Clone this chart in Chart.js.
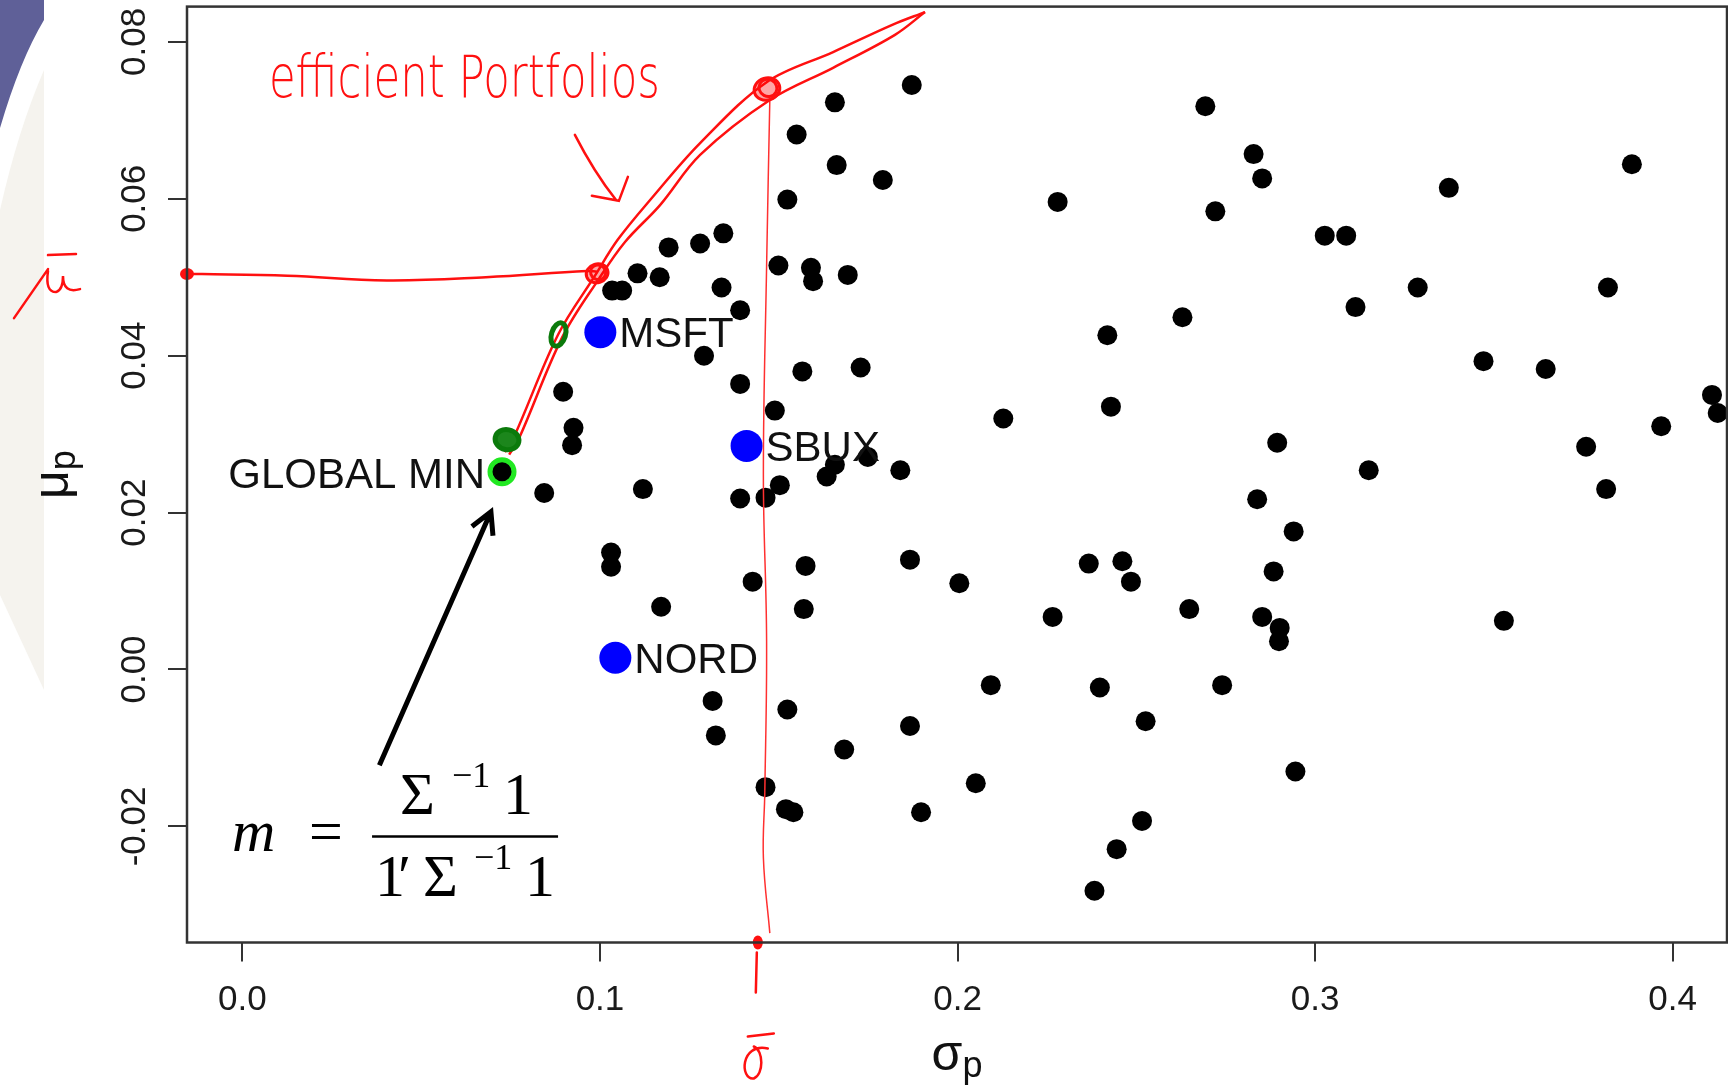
<!DOCTYPE html>
<html>
<head>
<meta charset="utf-8">
<title>Portfolio frontier</title>
<script src="https://cdn.jsdelivr.net/npm/chart.js@4.4.1/dist/chart.umd.min.js"></script>
<style>
  html, body { margin: 0; padding: 0; background: #fff; }
  #wrap { width: 1728px; height: 1089px; }
</style>
</head>
<body>
<div id="wrap"><canvas id="chart" width="1728" height="1089"></canvas></div>
<script>
// --- Data ---
// random portfolios (sigma_p, mu_p)
const portSigma = [
  0.1872, 0.1657, 0.1550, 0.1662, 0.1791, 0.1524, 0.1499, 0.1590, 0.1596, 0.1693,
  0.1345, 0.1280, 0.1192, 0.1105, 0.1167, 0.1034, 0.1062, 0.1340, 0.1392, 0.1291,
  0.1566, 0.1729, 0.1392, 0.1489, 0.0897, 0.0926, 0.0922, 0.1120, 0.0844, 0.1503,
  0.1392, 0.1463, 0.1634, 0.1657, 0.1749, 0.1840, 0.1031, 0.1031, 0.1171, 0.1427,
  0.1575, 0.1570, 0.1867, 0.2005, 0.1315, 0.1324, 0.1524, 0.1683, 0.1463, 0.1520,
  0.1541, 0.1867, 0.1898, 0.2093, 0.2051, 0.2280, 0.2693, 0.2828, 0.2852, 0.2721,
  0.3027, 0.3087, 0.3374, 0.3113, 0.3287, 0.2629, 0.2419, 0.3471, 0.3645, 0.3819,
  0.3886, 0.2128, 0.2429, 0.2894, 0.3150, 0.2838, 0.2940, 0.2367, 0.2461, 0.2485,
  0.2884, 0.2648, 0.2266, 0.2852, 0.2901, 0.2899, 0.2398, 0.2740, 0.2526, 0.2945,
  0.2516, 0.2445, 0.2383, 0.3528, 0.3814, 0.3758, 0.3968, 0.4110, 0.4126
];
const portMu = [
  0.0745, 0.0723, 0.0682, 0.0643, 0.0624, 0.0599, 0.0515, 0.0512, 0.0495, 0.0503,
  0.0556, 0.0543, 0.0538, 0.0505, 0.0500, 0.0483, 0.0483, 0.0487, 0.0458, 0.0400,
  0.0380, 0.0385, 0.0364, 0.0330, 0.0354, 0.0308, 0.0286, 0.0230, 0.0225, 0.0235,
  0.0218, 0.0219, 0.0246, 0.0261, 0.0271, 0.0254, 0.0149, 0.0131, 0.0080, 0.0112,
  0.0132, 0.0077, 0.0140, 0.0110, -0.0040, -0.0084, -0.0051, -0.0102, -0.0150, -0.0178,
  -0.0182, -0.0072, -0.0182, -0.0020, -0.0145, 0.0596, 0.0718, 0.0657, 0.0626, 0.0584,
  0.0553, 0.0553, 0.0614, 0.0462, 0.0487, 0.0449, 0.0426, 0.0393, 0.0383, 0.0487,
  0.0644, 0.0320, 0.0335, 0.0289, 0.0254, 0.0217, 0.0176, 0.0135, 0.0138, 0.0112,
  0.0125, 0.0077, 0.0067, 0.0067, 0.0053, 0.0036, -0.0023, -0.0020, -0.0066, -0.0130,
  -0.0193, -0.0229, -0.0282, 0.0062, 0.0230, 0.0284, 0.0310, 0.0350, 0.0327
];

// the three assets
const assetNames = ['MSFT', 'SBUX', 'NORD'];
const assetSigma = [0.1001, 0.1410, 0.1043];
const assetMu = [0.0430, 0.0285, 0.0015];

// global minimum variance portfolio
const gminLabel = 'GLOBAL MIN';
const gminSigma = [0.0726];
const gminMu = [0.0252];

// hand-drawn frontier (two strokes)
const frontierSigmaA = [0.0734, 0.0762, 0.0883, 0.0986, 0.1050, 0.1145, 0.1280, 0.1467, 0.1652, 0.1819, 0.1909];
const frontierMuA = [0.0277, 0.0299, 0.0427, 0.0502, 0.0548, 0.0601, 0.0671, 0.0749, 0.0787, 0.0822, 0.0838];
const frontierSigmaB = [0.0746, 0.0774, 0.0894, 0.0997, 0.1070, 0.1168, 0.1280, 0.1475, 0.1652, 0.1825, 0.1909];
const frontierMuB = [0.0274, 0.0295, 0.0423, 0.0498, 0.0545, 0.0592, 0.0656, 0.0726, 0.0767, 0.0809, 0.0838];

// target return line (mu bar) and its sigma (sigma bar)
const muBarSigma = [-0.0155, -0.0113, 0.0126, 0.0404, 0.0681, 0.0964, 0.0992];
const muBarMu = [0.0504, 0.0504, 0.0502, 0.0496, 0.0500, 0.0508, 0.0507];
const sigmaBarSigma = [0.1475, 0.1466, 0.1457, 0.1466, 0.1461, 0.1457, 0.1475];
const sigmaBarMu = [0.0726, 0.0514, 0.0248, 0.0036, -0.0156, -0.0240, -0.0336];

// ink marks on the frontier
const redMarkSigma = [0.0992, 0.1467];
const redMarkMu = [0.0505, 0.0740];
const greenMarkSigma = [0.0884, 0.0740];
const greenMarkMu = [0.0427, 0.0293];

// axes
const xMin = -0.0155, xMax = 0.4152;
const yMin = -0.0348, yMax = 0.0845;
const xTicks = [0, 0.1, 0.2, 0.3, 0.4];
const xTickLabels = ['0.0', '0.1', '0.2', '0.3', '0.4'];
const yTicks = [-0.02, 0, 0.02, 0.04, 0.06, 0.08];
const yTickLabels = ['-0.02', '0.00', '0.02', '0.04', '0.06', '0.08'];

// annotation anchors (data space)
const noteText = 'efficient Portfolios';
const noteAt = { x: 0.0074, y: 0.0730 };
const formulaAt = { x: -0.0029, y: -0.0232 };
const arrowFrom = { x: 0.0383, y: -0.0122 };
const arrowTo = { x: 0.0695, y: 0.0201 };

const inkRed = '#ff1010';
const inkGreen = '#0b7a0b';
const tickFontFamily = '"Liberation Sans Narrow", "Arial Narrow", "Liberation Sans", sans-serif';
const labelFont = '42px "Liberation Sans", Arial, sans-serif';

const toXY = (xs, ys) => xs.map((v, i) => ({ x: v, y: ys[i] }));

// --- Background slide decoration ---
const slidePlugin = {
  id: 'slide',
  beforeDraw(chart) {
    const ctx = chart.ctx;
    ctx.save();
    ctx.fillStyle = '#ffffff';
    ctx.fillRect(0, 0, chart.width, chart.height);
    // faint beige band on the left edge
    ctx.fillStyle = '#f5f3ee';
    ctx.beginPath();
    ctx.moveTo(44, 70);
    ctx.lineTo(44, 690);
    ctx.lineTo(0, 595);
    ctx.lineTo(0, 210);
    ctx.quadraticCurveTo(18, 130, 44, 70);
    ctx.fill();
    // purple corner
    ctx.fillStyle = '#5f6098';
    ctx.beginPath();
    ctx.moveTo(0, 0);
    ctx.lineTo(44, 0);
    ctx.lineTo(44, 20);
    ctx.quadraticCurveTo(20, 60, 0, 128);
    ctx.closePath();
    ctx.fill();
    ctx.restore();
  }
};

// --- Labels, ink and formula ---
const inkPlugin = {
  id: 'ink',
  afterDatasetsDraw(chart) {
    const ctx = chart.ctx;
    const ca = chart.chartArea;
    const px = v => chart.scales.x.getPixelForValue(v);
    const py = v => chart.scales.y.getPixelForValue(v);

    ctx.save();

    // red ink circles on the frontier
    ctx.lineCap = 'round';
    redMarkSigma.forEach((s, i) => {
      const cx = px(s), cy = py(redMarkMu[i]);
      const r = i === 0 ? 11 : 13;
      ctx.fillStyle = 'rgba(255,0,0,0.35)';
      ctx.beginPath(); ctx.ellipse(cx, cy, r, r * 0.85, -0.3, 0, Math.PI * 2); ctx.fill();
      ctx.strokeStyle = inkRed; ctx.lineWidth = 3;
      ctx.beginPath(); ctx.ellipse(cx, cy, r, r * 0.85, -0.3, 0, Math.PI * 2); ctx.stroke();
      ctx.beginPath(); ctx.ellipse(cx + 1, cy - 1, r * 0.7, r * 0.65, 0.5, 0, Math.PI * 2); ctx.stroke();
    });
    // ink dots where the lines meet the axes
    ctx.fillStyle = inkRed;
    ctx.beginPath(); ctx.ellipse(ca.left, py(muBarMu[0]), 7, 6, 0, 0, Math.PI * 2); ctx.fill();
    ctx.beginPath(); ctx.ellipse(px(sigmaBarSigma[sigmaBarSigma.length - 1]) - 12, ca.bottom, 5, 7, 0, 0, Math.PI * 2); ctx.fill();

    // green marks
    ctx.strokeStyle = inkGreen; ctx.lineWidth = 5;
    ctx.beginPath(); ctx.ellipse(px(greenMarkSigma[0]), py(greenMarkMu[0]), 7, 12, 0.3, 0, Math.PI * 2); ctx.stroke();
    ctx.fillStyle = '#1c861c';
    ctx.beginPath(); ctx.ellipse(px(greenMarkSigma[1]), py(greenMarkMu[1]), 12, 10, 0.2, 0, Math.PI * 2); ctx.fill();
    ctx.beginPath(); ctx.ellipse(px(greenMarkSigma[1]), py(greenMarkMu[1]), 12, 10, 0.2, 0, Math.PI * 2); ctx.stroke();

    // handwritten note
    const nx = px(noteAt.x), ny = py(noteAt.y);
    ctx.fillStyle = inkRed;
    ctx.font = '200 44px "DejaVu Sans", "Liberation Sans Narrow", sans-serif';
    ctx.textAlign = 'left'; ctx.textBaseline = 'alphabetic';
    const nw = ctx.measureText(noteText).width;
    ctx.save();
    ctx.translate(nx, ny);
    ctx.scale(391 / nw, 1.35);
    ctx.fillText(noteText, 0, 0);
    ctx.restore();
    // red arrow pointing at the frontier
    ctx.strokeStyle = inkRed; ctx.lineWidth = 2.5;
    ctx.beginPath();
    ctx.moveTo(nx + 306, ny + 38);
    ctx.quadraticCurveTo(nx + 325, ny + 75, nx + 347, ny + 103);
    ctx.moveTo(nx + 323, ny + 99);
    ctx.lineTo(nx + 350, ny + 104);
    ctx.lineTo(nx + 359, ny + 80);
    ctx.stroke();

    // mu bar symbol left of the axis
    const my = py(muBarMu[0]);
    ctx.lineWidth = 2.5;
    ctx.beginPath();
    ctx.moveTo(14, my + 44);
    ctx.lineTo(48, my - 5);
    ctx.moveTo(48, my - 3);
    ctx.quadraticCurveTo(45, my + 18, 56, my + 18);
    ctx.quadraticCurveTo(63, my + 16, 63, my + 2);
    ctx.quadraticCurveTo(63, my + 20, 80, my + 15);
    ctx.moveTo(48, my - 19);
    ctx.lineTo(76, my - 20);
    ctx.stroke();

    // sigma bar symbol below the axis
    const sx = px(sigmaBarSigma[sigmaBarSigma.length - 1]) - 14;
    const by = ca.bottom;
    ctx.beginPath();
    ctx.moveTo(sx + 1, by + 10);
    ctx.lineTo(sx, by + 50);
    ctx.moveTo(sx - 8, by + 94);
    ctx.lineTo(sx + 18, by + 91);
    ctx.moveTo(sx + 12, by + 106);
    ctx.bezierCurveTo(sx - 16, by + 100, sx - 16, by + 138, sx - 2, by + 136);
    ctx.bezierCurveTo(sx + 8, by + 132, sx + 8, by + 108, sx - 2, by + 104);
    ctx.stroke();

    // black arrow to the global minimum
    const ax0 = px(arrowFrom.x), ay0 = py(arrowFrom.y);
    const ax1 = px(arrowTo.x), ay1 = py(arrowTo.y);
    const ang = Math.atan2(ay1 - ay0, ax1 - ax0);
    ctx.strokeStyle = '#000'; ctx.lineWidth = 5; ctx.lineCap = 'butt';
    ctx.beginPath();
    ctx.moveTo(ax0, ay0); ctx.lineTo(ax1, ay1);
    ctx.moveTo(ax1 - 24 * Math.cos(ang - 0.5), ay1 - 24 * Math.sin(ang - 0.5));
    ctx.lineTo(ax1, ay1);
    ctx.lineTo(ax1 - 24 * Math.cos(ang + 0.5), ay1 - 24 * Math.sin(ang + 0.5));
    ctx.stroke();

    // formula m = Sigma^-1 1 / 1' Sigma^-1 1
    const fx = px(formulaAt.x), fy = py(formulaAt.y);
    ctx.fillStyle = '#000';
    const serif = '"Liberation Serif", "Times New Roman", serif';
    ctx.font = 'italic 60px ' + serif;
    ctx.fillText('m', fx, fy);
    ctx.font = '60px ' + serif;
    ctx.fillText('=', fx + 77, fy);
    ctx.lineWidth = 2.5;
    ctx.beginPath(); ctx.moveTo(fx + 140, fy - 15); ctx.lineTo(fx + 326, fy - 15); ctx.stroke();
    ctx.fillText('\u03A3', fx + 168, fy - 37);
    ctx.fillText('1', fx + 271, fy - 37);
    ctx.fillText('1', fx + 143, fy + 45);
    ctx.fillText('\u2032', fx + 166, fy + 45);
    ctx.fillText('\u03A3', fx + 191, fy + 45);
    ctx.fillText('1', fx + 293, fy + 45);
    ctx.font = '36px ' + serif;
    ctx.fillText('\u22121', fx + 220, fy - 64);
    ctx.fillText('\u22121', fx + 242, fy + 18);

    // asset labels
    ctx.font = labelFont;
    ctx.fillStyle = '#111';
    ctx.textAlign = 'left';
    assetNames.forEach((name, i) => {
      ctx.fillText(name, px(assetSigma[i]) + 19, py(assetMu[i]) + 15);
    });
    ctx.textAlign = 'right';
    ctx.fillText(gminLabel, px(gminSigma[0]) - 17, py(gminMu[0]) + 16);

    // plot frame
    ctx.strokeStyle = '#333'; ctx.lineWidth = 2.5;
    ctx.strokeRect(ca.left, ca.top, ca.right - ca.left, ca.bottom - ca.top);
    ctx.restore();
  },
  afterDraw(chart) {
    const ctx = chart.ctx;
    const ca = chart.chartArea;
    ctx.save();
    ctx.fillStyle = '#111';
    ctx.textAlign = 'left'; ctx.textBaseline = 'alphabetic';
    const big = '50px "Liberation Sans", Arial, sans-serif';
    const small = '36px "Liberation Sans", Arial, sans-serif';
    // x title: sigma_p
    ctx.font = big; const ws = ctx.measureText('\u03C3').width;
    ctx.font = small; const wp = ctx.measureText('p').width;
    const x0 = (ca.left + ca.right) / 2 - (ws + wp) / 2;
    ctx.font = big; ctx.fillText('\u03C3', x0, 1070);
    ctx.font = small; ctx.fillText('p', x0 + ws, 1077);
    // y title: mu_p, rotated
    ctx.font = big; const wm = ctx.measureText('\u03BC').width;
    const yc = (ca.top + ca.bottom) / 2;
    ctx.translate(68, yc + (wm + wp) / 2);
    ctx.rotate(-Math.PI / 2);
    ctx.fillText('\u03BC', 0, 0);
    ctx.font = small; ctx.fillText('p', wm, 7);
    ctx.restore();
  }
};

const ctx = document.getElementById('chart').getContext('2d');
const chart = new Chart(ctx, {
  type: 'scatter',
  data: {
    datasets: [
      {
        type: 'line', label: 'frontier', data: toXY(frontierSigmaA, frontierMuA),
        borderColor: inkRed, borderWidth: 2.5, pointRadius: 0, tension: 0.35, order: 0
      },
      {
        type: 'line', label: 'frontier 2', data: toXY(frontierSigmaB, frontierMuB),
        borderColor: inkRed, borderWidth: 2.5, pointRadius: 0, tension: 0.35, order: 0
      },
      {
        type: 'line', label: 'mu bar', data: toXY(muBarSigma, muBarMu),
        borderColor: inkRed, borderWidth: 2.5, pointRadius: 0, tension: 0.4, order: 0
      },
      {
        type: 'line', label: 'sigma bar', data: toXY(sigmaBarSigma, sigmaBarMu),
        borderColor: '#ff3030', borderWidth: 1.5, pointRadius: 0, tension: 0.4, order: 0
      },
      {
        label: gminLabel, data: toXY(gminSigma, gminMu),
        pointRadius: 12, backgroundColor: '#000', borderColor: '#22e822', borderWidth: 5, order: 2, clip: 0
      },
      {
        label: 'assets', data: toXY(assetSigma, assetMu),
        pointRadius: 16, backgroundColor: '#0000ff', borderWidth: 0, order: 3, clip: 0
      },
      {
        label: 'portfolios', data: toXY(portSigma, portMu),
        pointRadius: 10, backgroundColor: '#000', borderWidth: 0, order: 4, clip: 0
      }
    ]
  },
  options: {
    responsive: false,
    animation: false,
    devicePixelRatio: 1,
    events: [],
    layout: { autoPadding: false, padding: { top: 6.6, right: 1, left: 0, bottom: 0 } },
    plugins: { legend: { display: false }, tooltip: { enabled: false } },
    scales: {
      x: {
        type: 'linear', min: xMin, max: xMax,
        afterBuildTicks: s => { s.ticks = xTicks.map(v => ({ value: v })); },
        afterFit: s => { s.height = 146.5; s.paddingLeft = 0; s.paddingRight = 0; },
        ticks: {
          callback: (v, i) => xTickLabels[i],
          font: { family: tickFontFamily, size: 35 }, color: '#1a1a1a', padding: 17.5,
          maxRotation: 0, minRotation: 0
        },
        grid: { drawOnChartArea: false, drawTicks: true, tickLength: 19, color: '#333', lineWidth: 2 },
        border: { display: false }
      },
      y: {
        type: 'linear', min: yMin, max: yMax,
        afterBuildTicks: s => { s.ticks = yTicks.map(v => ({ value: v })); },
        afterFit: s => { s.width = 187; s.paddingTop = 0; s.paddingBottom = 0; },
        ticks: {
          callback: (v, i) => yTickLabels[i],
          font: { family: tickFontFamily, size: 35 }, color: '#1a1a1a', padding: -7.5,
          minRotation: 90, maxRotation: 90, crossAlign: 'center'
        },
        grid: { drawOnChartArea: false, drawTicks: true, tickLength: 19, color: '#333', lineWidth: 2 },
        border: { display: false }
      }
    }
  },
  plugins: [slidePlugin, inkPlugin]
});
</script>
</body>
</html>
